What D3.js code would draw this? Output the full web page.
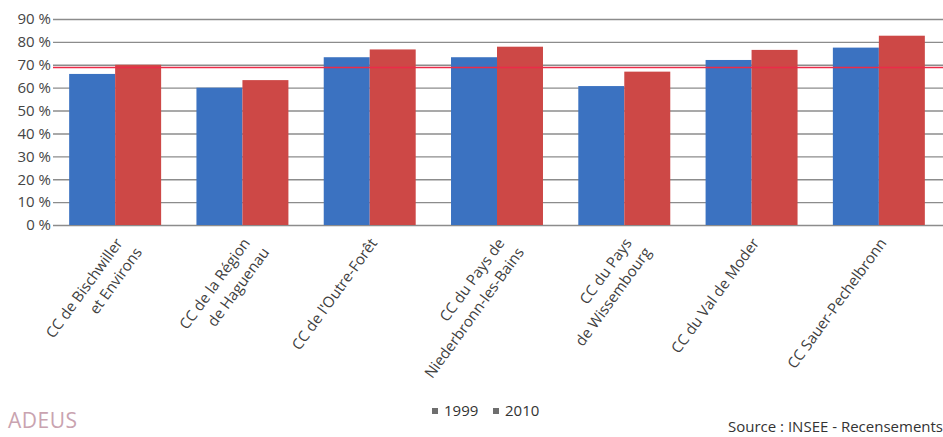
<!DOCTYPE html>
<html>
<head>
<meta charset="utf-8">
<script src="https://cdn.jsdelivr.net/npm/d3@7"></script>
<style>
  html, body { margin: 0; padding: 0; background: #fff; }
  svg { display: block; font-family: "Open Sans", sans-serif; }
</style>
</head>
<body>
<svg id="chart" width="943" height="437"></svg>
<script>
// Communautés de communes (each entry: label lines)
const categories = [
  ["CC de Bischwiller", "et Environs"],
  ["CC de la Région", "de Haguenau"],
  ["CC de l'Outre-Forêt"],
  ["CC du Pays de", "Niederbronn-les-Bains"],
  ["CC du Pays", "de Wissembourg"],
  ["CC du Val de Moder"],
  ["CC Sauer-Pechelbronn"]
];
const seriesNames = ["1999", "2010"];
const values1999 = [66.0, 60.0, 73.3, 73.3, 60.7, 72.1, 77.5];
const values2010 = [70.0, 63.3, 76.7, 77.9, 67.0, 76.5, 82.7];
const referenceValue = 68.8;
const yTicks = [0, 10, 20, 30, 40, 50, 60, 70, 80, 90];
const sourceText = "Source : INSEE - Recensements";
const logoText = "ADEUS";

const colors = { "1999": "#3b72c1", "2010": "#cd4846" };

const svg = d3.select("#chart");
const W = 943;
const gridLeft = 53, gridRight = 943;
const plotTop = 19, plotBottom = 225;

const keys = categories.map((c, i) => i);
const x0 = d3.scaleBand().domain(keys).range([51.5, 942.5]).paddingInner(0).paddingOuter(0);
const x1 = d3.scaleBand().domain(seriesNames).range([0, x0.bandwidth()]).paddingInner(0).paddingOuter(0.384);
const y = d3.scaleLinear().domain([0, 90]).range([plotBottom, plotTop]);

// Y axis with full-width gridlines
const yAxis = d3.axisLeft(y)
  .tickValues(yTicks)
  .tickFormat(d => d + " %")
  .tickSizeInner(-(gridRight - gridLeft))
  .tickSizeOuter(0)
  .tickPadding(2);

const gAxis = svg.append("g")
  .attr("transform", `translate(${gridLeft},0)`)
  .call(yAxis);
gAxis.select(".domain").remove();
gAxis.selectAll(".tick line").attr("stroke", "#8c8c8c").attr("stroke-width", 1.4);
gAxis.selectAll(".tick text")
  .attr("fill", "#454545")
  .style("font-size", "15px")
  .style("font-family", "'Open Sans', sans-serif");

// Bars
const rows = keys.map(i => ({ i, vals: [
  { key: "1999", v: values1999[i] },
  { key: "2010", v: values2010[i] }
]}));

const groups = svg.append("g").selectAll("g")
  .data(rows).join("g")
  .attr("transform", d => `translate(${x0(d.i)},0)`);

groups.selectAll("rect")
  .data(d => d.vals).join("rect")
  .attr("x", d => x1(d.key))
  .attr("width", x1.bandwidth())
  .attr("y", d => y(d.v))
  .attr("height", d => y(0) - y(d.v))
  .attr("fill", d => colors[d.key]);

// Reference line
svg.append("line")
  .attr("x1", gridLeft).attr("x2", gridRight)
  .attr("y1", y(referenceValue)).attr("y2", y(referenceValue))
  .attr("stroke", "#ec2b48").attr("stroke-width", 1.5);

// Rotated category labels
const labels = svg.append("g").selectAll("g")
  .data(categories.map((lines, i) => ({ lines, i }))).join("g")
  .attr("transform", d => `translate(${x0(d.i) + x0.bandwidth() / 2 + 4},240) rotate(-54)`);

labels.selectAll("text")
  .data(d => d.lines).join("text")
  .attr("x", (d, j) => 4 * j)
  .attr("y", (d, j) => 21 * j)
  .attr("dy", "0.35em")
  .attr("text-anchor", "end")
  .attr("fill", "#404040")
  .style("font-size", "15px")
  .text(d => d);

// Legend
const legend = svg.append("g").attr("transform", "translate(432,411)");
const legendX = [0, 61];
seriesNames.forEach((s, k) => {
  const g = legend.append("g").attr("transform", `translate(${legendX[k]},0)`);
  g.append("rect").attr("x", 0).attr("y", -3).attr("width", 6).attr("height", 6).attr("fill", "#6e6e6e");
  g.append("text").attr("x", 12).attr("y", 0).attr("dy", "0.35em")
    .attr("fill", "#333").style("font-size", "15px").text(s);
});

// Source note
svg.append("text")
  .attr("x", 943).attr("y", 427).attr("dy", "0.35em")
  .attr("text-anchor", "end")
  .attr("fill", "#333")
  .style("font-size", "15px")
  .text(sourceText);

// Logo
svg.append("text")
  .attr("x", 8).attr("y", 428)
  .attr("fill", "#c9a3b0")
  .style("font-size", "21px")
  .style("letter-spacing", "0.5px")
  .text(logoText);
</script>
</body>
</html>
